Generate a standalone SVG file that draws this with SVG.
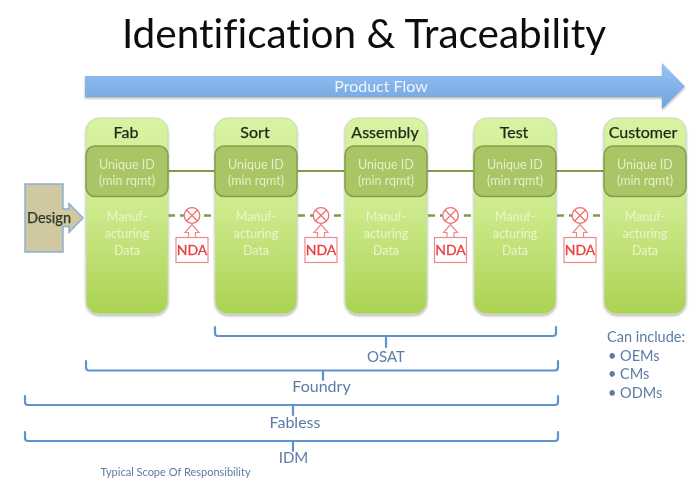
<svg xmlns="http://www.w3.org/2000/svg" width="698" height="486" viewBox="0 0 698 486">
<style>
text{font-family:Lato,"Open Sans","Liberation Sans",sans-serif;text-anchor:middle;font-variant-ligatures:none}
.col{fill:url(#g);stroke:#c9d9b5;stroke-width:1}
.id{fill:#a9c566;stroke:#84a04e;stroke-width:1.600}
.h{font-size:16px;fill:#23271d;stroke:#23271d;stroke-width:.25}
.w{font-size:12.500px;fill:#e4efc6}
.d{font-size:12.500px;fill:#eaf4cf}
.nda{fill:#fff;stroke:#ef8a8a;stroke-width:1.200}
.ndat{font-size:14px;fill:#ea4040;stroke:#ea4040;stroke-width:.3}
.br{fill:none;stroke:#5f93cd;stroke-width:2.200;stroke-linecap:round}
.s{font-size:16px;fill:#5b7ca6}
.c{font-size:14.500px;fill:#5b7ca6;text-anchor:start}
.solid{stroke:#7f9c49;stroke-width:2.200;fill:none}
.dash{stroke:#7f9c49;stroke-width:2.400;fill:none;stroke-dasharray:7 5}
</style>
<defs>
<linearGradient id="g" x1="0" y1="0" x2="0" y2="1"><stop offset="0" stop-color="#d8f3a2"/><stop offset=".45" stop-color="#cdeb8d"/><stop offset="1" stop-color="#acd253"/></linearGradient>
<linearGradient id="a" x1="0" y1="0" x2="0" y2="1"><stop offset="0" stop-color="#9ac3f2"/><stop offset="1" stop-color="#6ea3e0"/></linearGradient>
<filter id="b" x="-5%" y="-5%" width="110%" height="110%"><feGaussianBlur stdDeviation="0.45"/></filter>
<filter id="sh" x="-10%" y="-10%" width="120%" height="120%"><feDropShadow dx="0" dy="1.500" stdDeviation="1.200" flood-color="#000" flood-opacity=".3"/></filter>
<g id="nda"><path class="nda" d="M-3.500 22V17H-7L0 9L7 17H3.500V22Z"/><circle r="7.800" fill="#fff" stroke="#ef6f6f" stroke-width="1.300"/><path d="M-5.500-5.500L5.500 5.500M5.500-5.500L-5.500 5.500" stroke="#ef6f6f" stroke-width="1.200"/><rect class="nda" x="-16" y="22" width="32" height="25"/><text class="ndat" y="39.500">NDA</text></g>
</defs>
<g filter="url(#b)">
<text id="title" x="364" y="48" font-size="40.500" fill="#111">Identification &amp; Traceability</text>
<g id="product-flow"><path d="M85 76H662V63L685 86.500L662 109V97H85Z" fill="url(#a)" filter="url(#sh)"/><text x="381" y="92" font-size="16" fill="#eef5fc">Product Flow</text></g>
<g id="connectors">
<path class="solid" d="M167 171H216M297 171H346M427 171H475M556 171H605"/>
<path class="dash" d="M168 215.500H214M298 215.500H344M428 215.500H473M557 215.500H602"/>
</g>
<g id="fab"><rect class="col" x="86" y="118" width="82" height="196" rx="13" filter="url(#sh)"/><rect class="id" x="86" y="146" width="82" height="50.500" rx="9"/><text class="h" x="126" y="138">Fab</text><text class="w" x="127" y="169">Unique ID</text><text class="w" x="127" y="185">(min rqmt)</text><text class="d" x="127" y="221">Manuf-</text><text class="d" x="127" y="238">acturing</text><text class="d" x="127" y="255">Data</text></g>
<g id="sort"><rect class="col" x="215" y="118" width="82" height="196" rx="13" filter="url(#sh)"/><rect class="id" x="215" y="146" width="82" height="50.500" rx="9"/><text class="h" x="255" y="138">Sort</text><text class="w" x="256" y="169">Unique ID</text><text class="w" x="256" y="185">(min rqmt)</text><text class="d" x="256" y="221">Manuf-</text><text class="d" x="256" y="238">acturing</text><text class="d" x="256" y="255">Data</text></g>
<g id="assembly"><rect class="col" x="345" y="118" width="82" height="196" rx="13" filter="url(#sh)"/><rect class="id" x="345" y="146" width="82" height="50.500" rx="9"/><text class="h" x="385" y="138">Assembly</text><text class="w" x="386" y="169">Unique ID</text><text class="w" x="386" y="185">(min rqmt)</text><text class="d" x="386" y="221">Manuf-</text><text class="d" x="386" y="238">acturing</text><text class="d" x="386" y="255">Data</text></g>
<g id="test"><rect class="col" x="474" y="118" width="82" height="196" rx="13" filter="url(#sh)"/><rect class="id" x="474" y="146" width="82" height="50.500" rx="9"/><text class="h" x="514" y="138">Test</text><text class="w" x="515" y="169">Unique ID</text><text class="w" x="515" y="185">(min rqmt)</text><text class="d" x="515" y="221">Manuf-</text><text class="d" x="515" y="238">acturing</text><text class="d" x="515" y="255">Data</text></g>
<g id="customer"><rect class="col" x="604" y="118" width="82" height="196" rx="13" filter="url(#sh)"/><rect class="id" x="604" y="146" width="82" height="50.500" rx="9"/><text class="h" x="643" y="138">Customer</text><text class="w" x="645" y="169">Unique ID</text><text class="w" x="645" y="185">(min rqmt)</text><text class="d" x="645" y="221">Manuf-</text><text class="d" x="645" y="238">acturing</text><text class="d" x="645" y="255">Data</text></g>
<g id="design"><path d="M25 184H63V209H69V203.500L83 218L69 232.500V226.500H63V252H25Z" fill="#cfc8a0" stroke="#8caed6" stroke-width="1.500"/><text x="49" y="223" font-size="14.500" fill="#2f3a2a" stroke="#2f3a2a" stroke-width=".25">Design</text></g>
<use id="nda1" href="#nda" x="192" y="215.500"/>
<use id="nda2" href="#nda" x="321" y="215.500"/>
<use id="nda3" href="#nda" x="450.500" y="215.500"/>
<use id="nda4" href="#nda" x="580" y="215.500"/>
<g id="osat"><path class="br" d="M215 327V333Q215 336 218 336H553Q556 336 556 333V327M386 336V347"/><text class="s" x="386" y="362" style="font-size:15px">OSAT</text></g>
<g id="foundry"><path class="br" d="M86 361V367Q86 370.500 89 370.500H555Q558 370.500 558 367V361M323 370.500V380"/><text class="s" x="321.500" y="392">Foundry</text></g>
<g id="fabless"><path class="br" d="M25 396V402Q25 405 28 405H555Q558 405 558 402V396M293 405V415"/><text class="s" x="295" y="428">Fabless</text></g>
<g id="idm"><path class="br" d="M25 432V438Q25 441 28 441H555Q558 441 558 438V432M293 441V451"/><text class="s" x="293.500" y="463" style="font-size:15px">IDM</text></g>
<text id="scope" x="175.500" y="476" font-size="11" fill="#5b7ca6">Typical Scope Of Responsibility</text>
<g id="can-include"><text class="c" x="607" y="342">Can include:</text><text class="c" x="608" y="361">• OEMs</text><text class="c" x="608" y="379">• CMs</text><text class="c" x="608" y="398">• ODMs</text></g>
</g>
</svg>
